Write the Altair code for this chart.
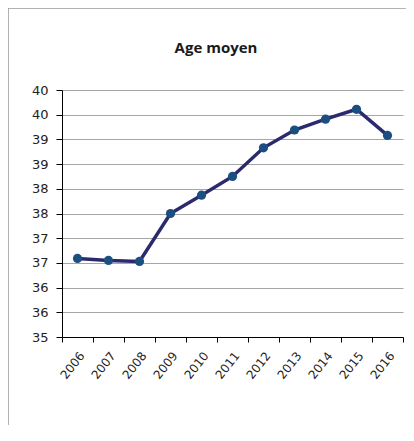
import altair as alt
import pandas as pd

years = ["2006", "2007", "2008", "2009", "2010", "2011", "2012", "2013", "2014", "2015", "2016"]
ages = [36.59, 36.55, 36.53, 37.50, 37.87, 38.25, 38.83, 39.19, 39.41, 39.61, 39.08]
y_ticks = [35, 35.5, 36, 36.5, 37, 37.5, 38, 38.5, 39, 39.5, 40]
title_text = "Age moyen"

df = pd.DataFrame({"year": years, "age": ages})

x_enc = alt.X(
    "year:O",
    title=None,
    bandPosition=0.5,
    scale=alt.Scale(type="band", paddingInner=0, paddingOuter=0),
    axis=alt.Axis(
        tickBand="extent", labelAngle=-52, labelAlign="right", labelBaseline="middle",
        labelFont="DejaVu Sans", labelFontSize=12, labelColor="#222222",
        labelPadding=11, labelOffset=4, tickSize=5, tickColor="#000000", domainColor="#000000",
        grid=False,
    ),
)
y_enc = alt.Y(
    "age:Q",
    title=None,
    scale=alt.Scale(domain=[35, 40], nice=False, zero=False),
    axis=alt.Axis(
        values=y_ticks, format=".0f", labelFont="DejaVu Sans", labelFontSize=13,
        labelColor="#222222", labelPadding=8, tickSize=6, tickColor="#000000",
        domainColor="#000000", gridColor="#A6A6A6", gridWidth=1,
    ),
)

line = alt.Chart(df).mark_line(color="#2B2A6E", strokeWidth=3.5).encode(x=x_enc, y=y_enc)
pts = alt.Chart(df).mark_point(filled=True, opacity=1, size=85, color="#1B4F80").encode(x=x_enc, y=y_enc)

frame = alt.Chart(alt.Data(values=[{}])).mark_rect(
    fill="transparent", stroke="#9A9A9A", strokeWidth=1.5
).encode(
    x=alt.value(-54), y=alt.value(-82), x2=alt.value(600), y2=alt.value(600)
)

title = alt.Chart(alt.Data(values=[{"t": title_text}])).mark_text(
    font="Open Sans", fontSize=15, fontWeight="bold", color="#1a1a1a",
    align="center", baseline="alphabetic",
).encode(text="t:N", x=alt.value(154), y=alt.value(-37))

chart = alt.layer(frame, line, pts, title).properties(
    width=341,
    height=247,
    padding={"left": 54, "top": 82, "right": 3, "bottom": 88},
    autosize="none",
).configure_view(strokeWidth=0)

chart.save("out.html", embed_options={"renderer": "svg", "actions": False})
